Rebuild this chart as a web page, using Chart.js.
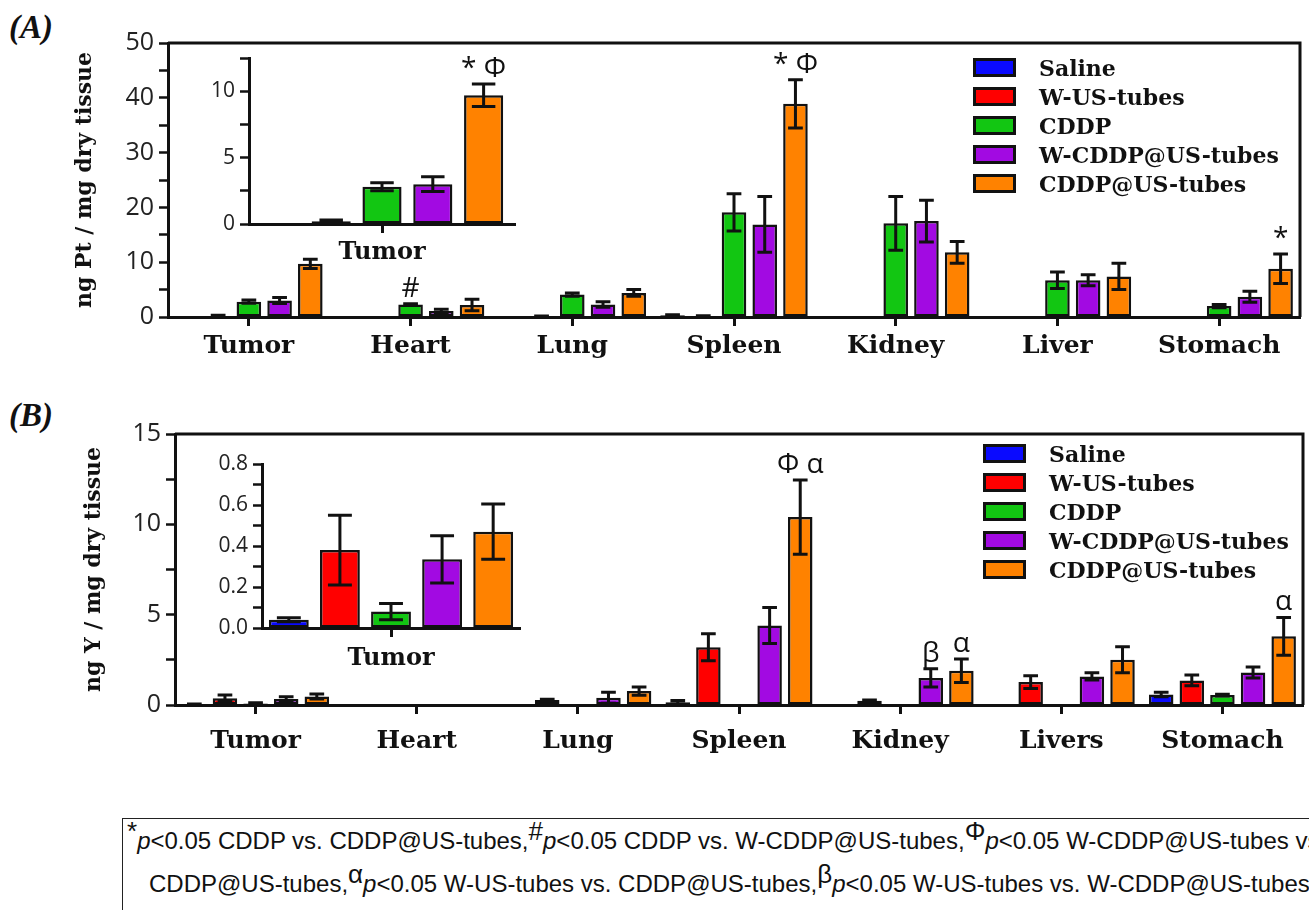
<!DOCTYPE html>
<html>
<head>
<meta charset="utf-8">
<script src="https://cdn.jsdelivr.net/npm/chart.js@4.4.0/dist/chart.umd.min.js"></script>
<style>
  body { margin: 0; background: #fff; }
  #wrap { position: relative; width: 1309px; height: 910px; overflow: hidden; background: #fff; }
  canvas { position: absolute; }
  .panel { position: absolute; font: italic bold 33px 'Liberation Serif', serif; color: #111; }
  .legend { position: absolute; font: bold 22px 'DejaVu Serif', serif; color: #111; }
  .legend div { height: 29px; display: flex; align-items: center; white-space: nowrap; }
  .legend span { display: inline-block; width: 37px; height: 13px; border: 3px solid #111; margin-right: 23px; }
  #note { position: absolute; left: 122px; top: 818px; width: 1400px; height: 130px; border: 1.5px solid #222;
          font: 24px 'Liberation Sans', sans-serif; color: #111; white-space: nowrap; line-height: 43px; padding-top: 0; }
  #note .s { font-size: 26px; position: relative; top: -9px; }
  #note i { font-style: italic; }
</style>
</head>
<body>
<div id="wrap">
  <div class="panel" style="left:9px;top:9px">(A)</div>
  <div class="panel" style="left:9px;top:397px">(B)</div>
  <canvas id="chartA" width="1309" height="370" style="left:0;top:0"></canvas>
  <canvas id="insetA" width="380" height="236" style="left:150px;top:40px"></canvas>
  <canvas id="chartB" width="1309" height="370" style="left:0;top:390px"></canvas>
  <canvas id="insetB" width="380" height="250" style="left:150px;top:440px"></canvas>
  <div class="legend" id="legendA" style="left:973px;top:53px"></div>
  <div class="legend" id="legendB" style="left:983px;top:439px"></div>
  <div id="note"><span style="padding-left:4px"></span><span class="s">*</span><i>p</i>&lt;0.05 CDDP vs. CDDP@US-tubes,<span class="s">#</span><i>p</i>&lt;0.05 CDDP vs. W-CDDP@US-tubes,<span class="s">Φ</span><i>p</i>&lt;0.05 W-CDDP@US-tubes vs.<br><span style="padding-left:26px"></span>CDDP@US-tubes,<span class="s">α</span><i>p</i>&lt;0.05 W-US-tubes vs. CDDP@US-tubes,<span class="s">β</span><i>p</i>&lt;0.05 W-US-tubes vs. W-CDDP@US-tubes</div>
</div>
<script>
const seriesNames = ["Saline", "W-US-tubes", "CDDP", "W-CDDP@US-tubes", "CDDP@US-tubes"];
const seriesColors = ["#0a0aff", "#ff0000", "#12c612", "#a20ae2", "#ff8200"];

// (A) ng Pt / mg dry tissue
const organsA = ["Tumor", "Heart", "Lung", "Spleen", "Kidney", "Liver", "Stomach"];
const ptSaline = [0, 0, 0, 0.3, 0.15, 0, 0];
const ptWUS = [0.2, 0, 0.15, 0.2, 0.15, 0, 0];
const ptCDDP = [2.8, 2.3, 4.1, 19.1, 17.1, 6.7, 2.0];
const ptWCDDP = [3.0, 1.1, 2.3, 16.9, 17.5, 6.7, 3.7];
const ptCDDPUS = [9.7, 2.2, 4.4, 38.9, 11.8, 7.4, 8.8];
const ptSalineErr = [0, 0, 0, 0.1, 0, 0, 0];
const ptWUSErr = [0.1, 0, 0.05, 0.05, 0, 0, 0];
const ptCDDPErr = [0.3, 0.1, 0.3, 3.4, 4.9, 1.5, 0.3];
const ptWCDDPErr = [0.55, 0.3, 0.5, 5.1, 3.8, 1.0, 1.0];
const ptCDDPUSErr = [0.85, 1.05, 0.6, 4.4, 2.0, 2.4, 2.7];
const marksA = [["Heart", 2, "#"], ["Spleen", 4, "* Φ"], ["Stomach", 4, "*"]];
const marksInsetA = [["Tumor", 4, "* Φ"]];

// (B) ng Y / mg dry tissue
const organsB = ["Tumor", "Heart", "Lung", "Spleen", "Kidney", "Livers", "Stomach"];
const ySaline = [0.04, 0, 0, 0.15, 0, 0, 0.58];
const yWUS = [0.38, 0, 0.27, 3.2, 0.24, 1.27, 1.36];
const yCDDP = [0.08, 0.03, 0, 0.03, 0, 0, 0.55];
const yWCDDP = [0.335, 0, 0.4, 4.4, 1.5, 1.58, 1.8];
const yCDDPUS = [0.47, 0.03, 0.77, 10.4, 1.9, 2.5, 3.8];
const ySalineErr = [0.01, 0, 0, 0.1, 0, 0, 0.12];
const yWUSErr = [0.17, 0, 0.05, 0.75, 0.03, 0.35, 0.3];
const yCDDPErr = [0.04, 0, 0, 0, 0, 0, 0.05];
const yWCDDPErr = [0.115, 0, 0.3, 1.0, 0.5, 0.2, 0.3];
const yCDDPUSErr = [0.135, 0, 0.23, 2.05, 0.65, 0.72, 1.05];
const marksB = [["Spleen", 4, "Φ α"], ["Kidney", 3, "β"], ["Kidney", 4, "α"], ["Stomach", 4, "α"]];

const ptValues = [ptSaline, ptWUS, ptCDDP, ptWCDDP, ptCDDPUS];
const ptErrors = [ptSalineErr, ptWUSErr, ptCDDPErr, ptWCDDPErr, ptCDDPUSErr];
const yValues = [ySaline, yWUS, yCDDP, yWCDDP, yCDDPUS];
const yErrors = [ySalineErr, yWUSErr, yCDDPErr, yWCDDPErr, yCDDPUSErr];

const INK = "#111";

// error bars, drawn through the chart's own y scale
const errorBars = {
  id: "errorBars",
  afterDatasetsDraw(chart) {
    const ctx = chart.ctx;
    const y = chart.scales.y;
    ctx.save();
    ctx.strokeStyle = INK;
    ctx.lineWidth = 3;
    chart.data.datasets.forEach((ds, i) => {
      chart.getDatasetMeta(i).data.forEach((bar, j) => {
        const v = ds.data[j], e = ds.errors[j];
        if (!e) return;
        const top = y.getPixelForValue(v + e);
        const bot = y.getPixelForValue(Math.max(v - e, 0));
        const half = bar.width * 0.3;
        ctx.beginPath();
        ctx.moveTo(bar.x, top); ctx.lineTo(bar.x, bot);
        ctx.moveTo(bar.x - half, top); ctx.lineTo(bar.x + half, top);
        ctx.moveTo(bar.x - half, bot); ctx.lineTo(bar.x + half, bot);
        ctx.stroke();
      });
    });
    ctx.restore();
  }
};

// significance symbols above the error bars
const sigMarks = {
  id: "sigMarks",
  afterDatasetsDraw(chart, args, opts) {
    const ctx = chart.ctx;
    const y = chart.scales.y;
    ctx.save();
    ctx.font = opts.font;
    ctx.fillStyle = INK;
    ctx.textAlign = "center";
    ctx.textBaseline = "alphabetic";
    (opts.items || []).forEach(([cat, di, text]) => {
      const j = chart.data.labels.indexOf(cat);
      const ds = chart.data.datasets[di];
      const bar = chart.getDatasetMeta(di).data[j];
      const top = y.getPixelForValue(ds.data[j] + (ds.errors[j] || 0));
      ctx.fillText(text, bar.x, top - opts.gap);
    });
    ctx.restore();
  }
};

// top and right edges of the plot box
const frame = {
  id: "frame",
  afterDraw(chart, args, opts) {
    if (!opts.show) return;
    const { ctx, chartArea: { left, top, right, bottom } } = chart;
    ctx.save();
    ctx.strokeStyle = INK;
    ctx.lineWidth = 3;
    ctx.beginPath();
    ctx.moveTo(left, top);
    ctx.lineTo(right, top);
    ctx.lineTo(right, bottom);
    ctx.stroke();
    ctx.restore();
  }
};

function makeSets(values, errors, idx, catPct, barPct) {
  return seriesNames.map((name, k) => ({
    label: name,
    data: idx == null ? values[k] : [values[k][idx]],
    errors: idx == null ? errors[k] : [errors[k][idx]],
    backgroundColor: seriesColors[k],
    borderColor: INK,
    borderWidth: 2.5,
    borderSkipped: false,
    categoryPercentage: catPct,
    barPercentage: barPct
  }));
}

function yScale(max, step, every, decimals, width, fontSize, title, titlePad) {
  return {
    min: 0, max: max,
    ticks: {
      stepSize: step, autoSkip: false, padding: 5, color: "#222",
      font: { family: "Open Sans", size: fontSize },
      callback: v => Math.abs(v / every - Math.round(v / every)) < 1e-6 ? v.toFixed(decimals) : ""
    },
    grid: { drawOnChartArea: false, tickLength: 9, tickWidth: 2.5, tickColor: INK },
    border: { width: 3, color: INK },
    title: title ? {
      display: true, text: title, color: INK,
      font: { family: "DejaVu Serif", size: 22, weight: "bold" },
      padding: { top: titlePad, bottom: 0 }
    } : { display: false },
    afterFit: s => { s.width = width; }
  };
}

function xScale(height, fontSize, pad) {
  return {
    type: "category",
    ticks: { color: INK, padding: pad, maxRotation: 0, autoSkip: false,
      font: { family: "DejaVu Serif", size: fontSize, weight: "bold" } },
    grid: { offset: false, drawOnChartArea: false, tickLength: 9, tickWidth: 3, tickColor: INK },
    border: { width: 3, color: INK },
    afterFit: s => { s.height = height; }
  };
}

function barChart(id, labels, datasets, pad, xs, ys, marks, showFrame) {
  return new Chart(document.getElementById(id), {
    type: "bar",
    data: { labels: labels, datasets: datasets },
    options: {
      responsive: false,
      animation: false,
      layout: { padding: pad },
      plugins: {
        legend: { display: false },
        tooltip: { enabled: false },
        sigMarks: { items: marks, font: "28px 'Open Sans'", gap: 7 },
        frame: { show: showFrame }
      },
      scales: { x: xs, y: ys }
    },
    plugins: [errorBars, sigMarks, frame]
  });
}

barChart("chartA", organsA, makeSets(ptValues, ptErrors, null, 0.95, 0.8),
  { top: 43, right: 9, left: 0, bottom: 0 },
  xScale(53, 25, 5), yScale(50, 5, 10, 0, 168, 25, "ng Pt / mg dry tissue", 72), marksA, true);

barChart("insetA", ["Tumor"], makeSets(ptValues, ptErrors, 0, 0.955, 0.77),
  { top: 18, right: 15, left: 0, bottom: 0 },
  xScale(52, 24, 5), yScale(12.5, 2.5, 5, 0, 99, 21, null, 0), marksInsetA, false);

barChart("chartB", organsB, makeSets(yValues, yErrors, null, 0.95, 0.8),
  { top: 44, right: 6, left: 0, bottom: 0 },
  xScale(55, 25, 12), yScale(15, 2.5, 5, 0, 175, 25, "ng Y / mg dry tissue", 81), marksB, true);

barChart("insetB", ["Tumor"], makeSets(yValues, yErrors, 0, 0.99, 0.78),
  { top: 24, right: 10, left: 0, bottom: 0 },
  xScale(62, 24, 7), yScale(0.8, 0.1, 0.2, 1, 112, 21, null, 0), [], false);

// legends
function buildLegend(id) {
  const el = document.getElementById(id);
  seriesNames.forEach((name, k) => {
    const row = document.createElement("div");
    const box = document.createElement("span");
    box.style.background = seriesColors[k];
    row.appendChild(box);
    row.appendChild(document.createTextNode(name));
    el.appendChild(row);
  });
}
buildLegend("legendA");
buildLegend("legendB");
</script>
</body>
</html>
